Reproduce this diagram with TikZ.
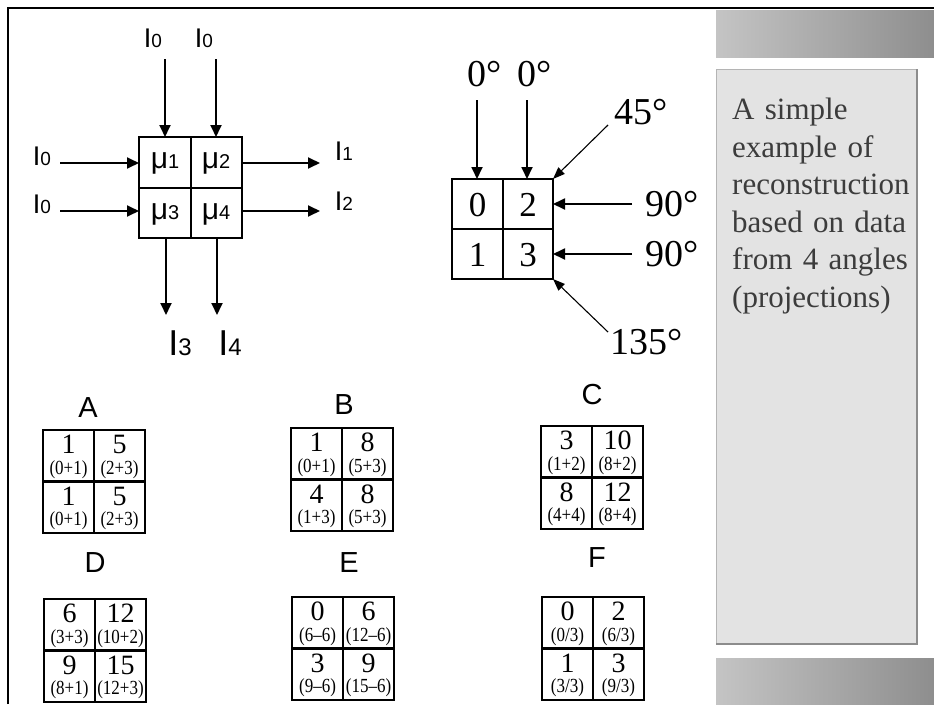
\documentclass[tikz,border=0pt]{standalone}
\usepackage{fontspec}
\setmainfont{Liberation Serif}
\newfontfamily\sansfam{Liberation Sans}
\newfontfamily\narrowserif[FakeStretch=0.85,Ligatures=TeX]{Liberation Serif}
\usetikzlibrary{arrows.meta,positioning}

\definecolor{panelfill}{HTML}{E3E3E3}
\definecolor{paneledge}{HTML}{B4B4B4}
\definecolor{panelshadow}{HTML}{8C8C8C}
\definecolor{bandlight}{HTML}{C4C4C4}
\definecolor{banddark}{HTML}{8E8E8E}
\definecolor{paneltext}{HTML}{3C3C3C}

\tikzset{
  ray/.style={line width=1.8pt,-{Triangle[length=12pt,width=11pt]}},
  slantray/.style={line width=1.1pt,-{Triangle[length=12pt,width=9pt]}},
  cellgrid/.style={line width=2.2pt},
  itxt/.style={inner sep=0pt,font=\sansfam\fontsize{27}{27}\selectfont},
  bigitxt/.style={inner sep=0pt,font=\sansfam\fontsize{36}{36}\selectfont},
  mutxt/.style={inner sep=0pt,font=\sansfam\fontsize{30}{30}\selectfont},
  degtxt/.style={inner sep=0pt,font=\fontsize{38}{38}\selectfont},
  digit/.style={inner sep=0pt,font=\fontsize{35}{35}\selectfont},
  gridname/.style={inner sep=0pt,font=\sansfam\fontsize{29}{29}\selectfont},
  cellnum/.style={inner sep=0pt,font=\fontsize{28}{28}\selectfont},
  cellexp/.style={inner sep=0pt,font=\narrowserif\fontsize{20}{20}\selectfont},
}

\newcommand\Isub[1]{I{\fontsize{19}{19}\selectfont #1}}
\newcommand\bigIsub[1]{I{\fontsize{24}{24}\selectfont #1}}
\newcommand\musub[1]{μ{\fontsize{20}{20}\selectfont #1}}
% top left corner of a 2x2 result grid
\newcommand\smallgrid[2]{%
  \draw[cellgrid] (#1,#2) rectangle ++(102,103)
    ({#1+51},#2) -- ++(0,103) (#1,{#2+51.5}) -- ++(102,0);}
% name, centre of the number, number, sum
\newcommand\cellpair[5]{%
  \node[cellnum] (#1n) at (#2,{#3-1.5}) {#4};
  \node[cellexp] (#1e) at (#2,{#3+23.5}) {#5};}

\begin{document}
\begin{tikzpicture}[x=1pt,y=-1pt]
\useasboundingbox (0,0) rectangle (934,704);
\fill[white] (0,0) rectangle (934,704);

% slide frame and side panel
\draw[line width=2.6pt] (8,704) -- (8,8) -- (934,8);
\shade[left color=bandlight,right color=banddark] (716,10) rectangle (934,57);
\shade[left color=bandlight,right color=banddark] (716,658) rectangle (934,704);
\filldraw[fill=panelfill,draw=paneledge,line width=0.8pt] (716,69) rectangle (917,644);
\draw[panelshadow,line width=1.5pt] (917,69) -- (917,644) -- (716,644);
\node[anchor=north west,inner sep=0pt,text width=185pt,align=left,text=paneltext,
  font=\fontsize{31}{37.5}\selectfont] (note) at (732,98)
  {A simple\\ example of\\ reconstruction\\ based on data\\ from 4 angles\\ (projections)};

% attenuation grid
\draw[cellgrid] (139,137) rectangle (242,238) (191,137) -- (191,238) (139,188) -- (242,188);
\node[mutxt] (mu1) at (165,163) {\musub1};
\node[mutxt] (mu2) at (216,163) {\musub2};
\node[mutxt] (mu3) at (165,214) {\musub3};
\node[mutxt] (mu4) at (216,214) {\musub4};

\coordinate (topA) at (165,59);  \coordinate (hitA) at (165,137);
\coordinate (topB) at (216,59);  \coordinate (hitB) at (216,137);
\coordinate (leftA) at (60,163); \coordinate (hitC) at (139,163);
\coordinate (leftB) at (60,211); \coordinate (hitD) at (139,211);
\coordinate (outA) at (242,163); \coordinate (endA) at (320,163);
\coordinate (outB) at (242,211); \coordinate (endB) at (320,211);
\coordinate (outC) at (166,238); \coordinate (endC) at (166,315);
\coordinate (outD) at (217,238); \coordinate (endD) at (217,315);
\draw[ray] (topA) -- (hitA);
\draw[ray] (topB) -- (hitB);
\draw[ray] (leftA) -- (hitC);
\draw[ray] (leftB) -- (hitD);
\draw[ray] (outA) -- (endA);
\draw[ray] (outB) -- (endB);
\draw[ray] (outC) -- (endC);
\draw[ray] (outD) -- (endD);

\node[itxt] (inTopA) at (153,38) {\Isub0};
\node[itxt] (inTopB) at (204,38) {\Isub0};
\node[itxt] (inLeftA) at (42,156) {\Isub0};
\node[itxt] (inLeftB) at (42,204) {\Isub0};
\node[itxt] (outI1) at (344,151) {\Isub1};
\node[itxt] (outI2) at (344,201) {\Isub2};
\node[bigitxt] (outI3) at (180,343) {\bigIsub3};
\node[bigitxt] (outI4) at (230,343) {\bigIsub4};

% projection angles
\draw[line width=1.6pt] (452,179) rectangle (553,279) (503,179) -- (503,279) (452,229) -- (553,229);
\node[digit] (p0) at (477.5,205) {0};
\node[digit] (p2) at (528,205) {2};
\node[digit] (p1) at (477.5,255) {1};
\node[digit] (p3) at (528,255) {3};

\coordinate (zA) at (477,100);  \coordinate (zAhit) at (477,179);
\coordinate (zB) at (527,100);  \coordinate (zBhit) at (527,179);
\coordinate (fortyfive) at (608,125); \coordinate (corNE) at (553,179);
\coordinate (ninA) at (632,204); \coordinate (ninAhit) at (553,204);
\coordinate (ninB) at (632,254); \coordinate (ninBhit) at (553,254);
\coordinate (oneforty) at (608,332); \coordinate (corSE) at (553,279);
\draw[ray] (zA) -- (zAhit);
\draw[ray] (zB) -- (zBhit);
\draw[slantray] (fortyfive) -- (corNE);
\draw[ray] (ninA) -- (ninAhit);
\draw[ray] (ninB) -- (ninBhit);
\draw[slantray] (oneforty) -- (corSE);

\node[degtxt] (degA) at (477,74) {0\rlap{°}};
\node[degtxt] (degB) at (527,74) {0\rlap{°}};
\node[degtxt] (deg45) at (641,112) {45°};
\node[degtxt,anchor=west] (deg90a) at (645,204) {90°};
\node[degtxt,anchor=west] (deg90b) at (645,254) {90°};
\node[degtxt,anchor=west] (deg135) at (610,342) {135°};

% reconstruction steps
\node[gridname] (labA) at (88,408) {A};
\node[gridname] (labB) at (344,405) {B};
\node[gridname] (labC) at (592,395) {C};
\node[gridname] (labD) at (95,563) {D};
\node[gridname] (labE) at (349,563) {E};
\node[gridname] (labF) at (597,558) {F};

\smallgrid{43}{430}
\cellpair{a1}{68.5}{446}{1}{(0+1)}
\cellpair{a2}{119.5}{446}{5}{(2+3)}
\cellpair{a3}{68.5}{497.5}{1}{(0+1)}
\cellpair{a4}{119.5}{497.5}{5}{(2+3)}

\smallgrid{291}{428}
\cellpair{b1}{316.5}{444}{1}{(0+1)}
\cellpair{b2}{367.5}{444}{8}{(5+3)}
\cellpair{b3}{316.5}{495.5}{4}{(1+3)}
\cellpair{b4}{367.5}{495.5}{8}{(5+3)}

\smallgrid{541}{426}
\cellpair{c1}{566.5}{442}{3}{(1+2)}
\cellpair{c2}{617.5}{442}{10}{(8+2)}
\cellpair{c3}{566.5}{493.5}{8}{(4+4)}
\cellpair{c4}{617.5}{493.5}{12}{(8+4)}

\smallgrid{44}{599}
\cellpair{d1}{69.5}{615}{6}{(3+3)}
\cellpair{d2}{120.5}{615}{12}{(10+2)}
\cellpair{d3}{69.5}{666.5}{9}{(8+1)}
\cellpair{d4}{120.5}{666.5}{15}{(12+3)}

\smallgrid{292}{597}
\cellpair{e1}{317.5}{613}{0}{(6–6)}
\cellpair{e2}{368.5}{613}{6}{(12–6)}
\cellpair{e3}{317.5}{664.5}{3}{(9–6)}
\cellpair{e4}{368.5}{664.5}{9}{(15–6)}

\smallgrid{542}{597}
\cellpair{f1}{567.5}{613}{0}{(0/3)}
\cellpair{f2}{618.5}{613}{2}{(6/3)}
\cellpair{f3}{567.5}{664.5}{1}{(3/3)}
\cellpair{f4}{618.5}{664.5}{3}{(9/3)}
\end{tikzpicture}
\end{document}
